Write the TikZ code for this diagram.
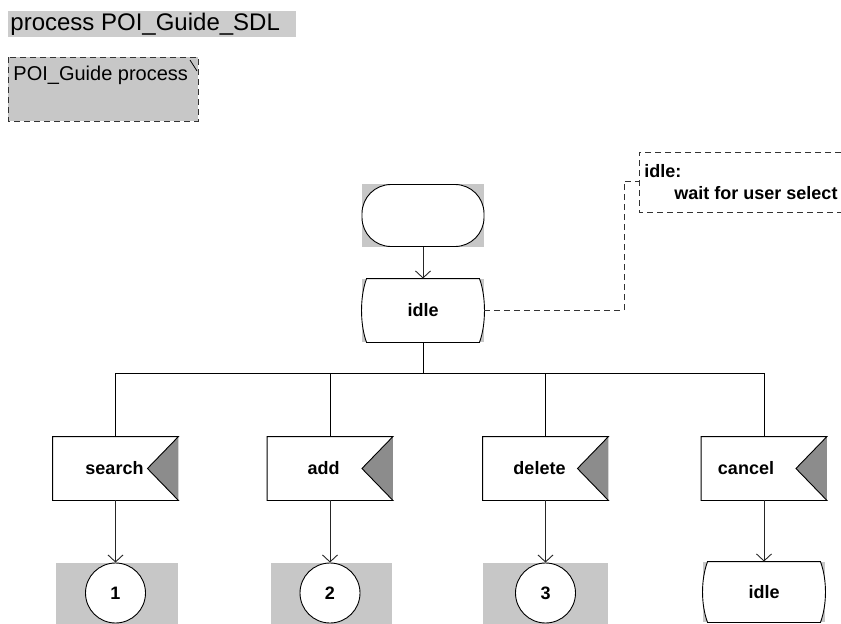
\documentclass[tikz,border=0pt]{standalone}
\usepackage{fontspec}
\setmainfont{Liberation Sans}
\usetikzlibrary{arrows.meta}
\definecolor{bggray}{gray}{0.78}
\definecolor{titlegray}{gray}{0.80}
\definecolor{notchgray}{gray}{0.55}
\newcommand\sdlsignal[1]{%
  \fill[white] (#1.north west) rectangle (#1.south east);
  \fill[notchgray] (#1.north east) -- ([xshift=-31pt]#1.east) -- (#1.south east) -- cycle;
  \draw (#1.north east) -- (#1.north west) -- (#1.south west) -- (#1.south east) -- ([xshift=-31pt]#1.east) -- cycle;}
\newcommand\sdlstate[1]{%
  \fill[bggray] (#1.north west) rectangle (#1.south east);
  \draw[fill=white] ([xshift=5pt]#1.north west) -- ([xshift=-5pt]#1.north east)
    .. controls ([xshift=1.7pt,yshift=-18pt]#1.north east) and ([xshift=1.7pt,yshift=18pt]#1.south east) .. ([xshift=-5pt]#1.south east)
    -- ([xshift=5pt]#1.south west)
    .. controls ([xshift=-1.7pt,yshift=18pt]#1.south west) and ([xshift=-1.7pt,yshift=-18pt]#1.north west) .. cycle;}
\begin{document}
\begin{tikzpicture}[x=1pt,y=-1pt,line width=0.9pt,
  conn/.style={draw=black!85,-{Straight Barb[length=7pt,width=15pt,line width=0.9pt]}},
  lbl/.style={font=\fontsize{18}{22}\selectfont\bfseries,inner sep=0pt},
  sigbox/.style={rectangle,minimum width=125pt,minimum height=63pt,inner sep=0pt},
  statebox/.style={rectangle,minimum width=122pt,minimum height=63pt,inner sep=0pt},
  conncirc/.style={circle,draw,fill=white,minimum size=60pt,inner sep=0pt,font=\fontsize{18}{22}\selectfont\bfseries},
  cdash/.style={draw=black!80,dash pattern=on 6pt off 4pt,line width=0.9pt}]
\useasboundingbox (0,0) rectangle (841,624);

% title
\fill[titlegray] (8,11) rectangle (296,37);
\node[anchor=west,inner sep=0pt,font=\fontsize{24}{28}\selectfont] (title) at (10,24) {process POI\_Guide\_SDL};

% text symbol
\filldraw[fill=bggray,cdash] (8,57) rectangle (198,121);
\node[anchor=west,inner sep=0pt,font=\fontsize{20}{24}\selectfont] (ptext) at (13,75) {POI\_Guide process};
\draw[line width=0.8pt] (190,60) -- (197,71);

% start
\fill[bggray] (362,184) rectangle (484,247);
\node[rectangle,rounded corners=29pt,draw,fill=white,minimum width=122pt,minimum height=62pt] (start) at (423,215.5) {};

% idle state
\node[statebox] (idle) at (423,310.5) {};
\sdlstate{idle}
\node[lbl] (idleT) at (idle.center) {idle};
\draw[conn] (start.south) -- (idle.north);

% comment
\coordinate (k) at (624,181);
\coordinate (noteL) at (639,181);
\draw[cdash] (idle.east) -| (k) -- (noteL);
\draw[cdash] (841,152) -- (639,152) -- (639,212) -- (841,212);
\node[anchor=west,lbl] (noteA) at (644,171) {idle:};
\node[anchor=west,lbl] (noteB) at (674,193) {wait for user select};

% signals
\node[sigbox] (search) at (115.5,468.5) {};
\node[sigbox] (add) at (330,468.5) {};
\node[sigbox] (delete) at (545.5,468.5) {};
\node[sigbox] (cancel) at (764,468.5) {};
\sdlsignal{search}
\sdlsignal{add}
\sdlsignal{delete}
\sdlsignal{cancel}
\node[lbl] (searchT) at ([xshift=-1pt]search.center) {search};
\node[lbl] (addT) at ([xshift=-6.5pt]add.center) {add};
\node[lbl] (deleteT) at ([xshift=-6pt]delete.center) {delete};
\node[lbl] (cancelT) at ([xshift=-18pt]cancel.center) {cancel};

% bus
\coordinate (bus) at (423,373);
\coordinate (b1) at (115.5,373);
\coordinate (b2) at (330,373);
\coordinate (b3) at (545.5,373);
\coordinate (b4) at (764,373);
\draw (idle.south) -- (bus);
\draw (b1) -- (b4);
\draw (b1) -- (search.north);
\draw (b2) -- (add.north);
\draw (b3) -- (delete.north);
\draw (b4) -- (cancel.north);

% connectors
\fill[bggray] (56,563) rectangle (178,624);
\fill[bggray] (271,563) rectangle (392,624);
\fill[bggray] (483,563) rectangle (608,624);
\node[conncirc] (c1) at (115.5,593) {1};
\node[conncirc] (c2) at (330,593) {2};
\node[conncirc] (c3) at (545.5,593) {3};
\node[statebox,minimum height=60pt] (idle2) at (764,592) {};
\sdlstate{idle2}
\node[lbl] (idle2T) at (idle2.center) {idle};

\draw[conn] (search.south) -- (c1.north);
\draw[conn] (add.south) -- (c2.north);
\draw[conn] (delete.south) -- (c3.north);
\draw[conn] (cancel.south) -- (idle2.north);
\end{tikzpicture}
\end{document}
